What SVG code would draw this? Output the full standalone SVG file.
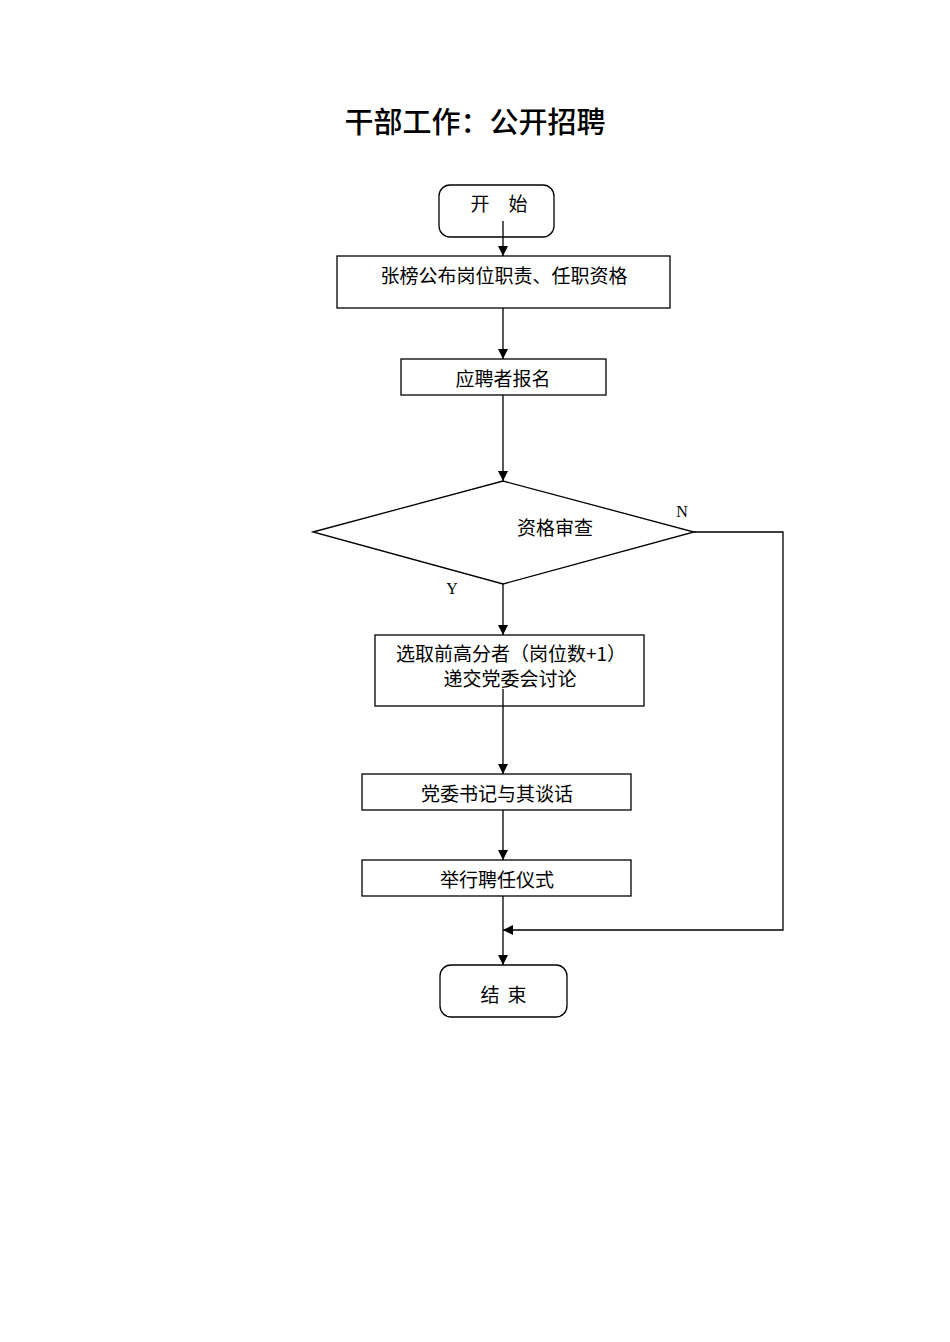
<svg xmlns="http://www.w3.org/2000/svg" width="950" height="1342" viewBox="0 0 950 1342">
<style>
.box{fill:#fff;stroke:#000;stroke-width:1.3}
.t{font-family:"Noto Sans CJK SC","Liberation Serif",serif;font-size:19px;fill:#000}
.lt{font-family:"Liberation Serif",serif;font-size:16px;fill:#000}
.ln{fill:none;stroke:#000;stroke-width:1.3}
</style>
<defs>
<marker id="ar" viewBox="0 0 10 10" refX="10" refY="5" markerWidth="10" markerHeight="10" markerUnits="userSpaceOnUse" orient="auto">
<path d="M0,0 L10,5 L0,10 Z" fill="#000"/>
</marker>
</defs>
<rect width="950" height="1342" fill="#fff"/>
<text x="475" y="133" text-anchor="middle" font-family="Noto Sans CJK SC, sans-serif" font-size="29" font-weight="500" fill="#000">干部工作：公开招聘</text>
<g id="start"><rect class="box" x="439" y="185" width="115" height="52" rx="11"/><text class="t" x="480" y="211" text-anchor="middle">开</text><text class="t" x="518" y="211" text-anchor="middle">始</text></g>
<g id="n1"><rect class="box" x="337" y="256" width="333" height="52"/><text class="t" x="504" y="283" text-anchor="middle">张榜公布岗位职责、任职资格</text></g>
<g id="n2"><rect class="box" x="401" y="359" width="205" height="36"/><text class="t" x="503" y="386" text-anchor="middle">应聘者报名</text></g>
<g id="d1"><polygon class="box" points="313,532 503,481 694,532 503,584"/><text class="t" x="555" y="535" text-anchor="middle">资格审查</text></g>
<g id="n3"><rect class="box" x="375" y="635" width="269" height="71"/><text class="t" x="396" y="661">选取前高分者（岗位数+1）</text><text class="t" x="510" y="686" text-anchor="middle">递交党委会讨论</text></g>
<g id="n4"><rect class="box" x="362" y="774" width="269" height="36"/><text class="t" x="497" y="801" text-anchor="middle">党委书记与其谈话</text></g>
<g id="n5"><rect class="box" x="362" y="860" width="269" height="36"/><text class="t" x="497" y="887" text-anchor="middle">举行聘任仪式</text></g>
<g id="end"><rect class="box" x="440" y="965" width="127" height="52" rx="11"/><text class="t" x="490" y="1002" text-anchor="middle">结</text><text class="t" x="517" y="1002" text-anchor="middle">束</text></g>
<g id="connectors">
<line class="ln" x1="503" y1="221" x2="503" y2="256" marker-end="url(#ar)"/>
<line class="ln" x1="503" y1="308" x2="503" y2="359" marker-end="url(#ar)"/>
<line class="ln" x1="503" y1="395" x2="503" y2="481" marker-end="url(#ar)"/>
<line class="ln" x1="503" y1="584" x2="503" y2="635" marker-end="url(#ar)"/>
<line class="ln" x1="503" y1="689" x2="503" y2="774" marker-end="url(#ar)"/>
<line class="ln" x1="503" y1="810" x2="503" y2="860" marker-end="url(#ar)"/>
<line class="ln" x1="503" y1="896" x2="503" y2="965" marker-end="url(#ar)"/>
<polyline class="ln" points="694,532 783,532 783,930 503,930" marker-end="url(#ar)"/>
<text class="lt" x="682" y="517" text-anchor="middle">N</text>
<text class="lt" x="452" y="594" text-anchor="middle">Y</text>
</g>
</svg>
